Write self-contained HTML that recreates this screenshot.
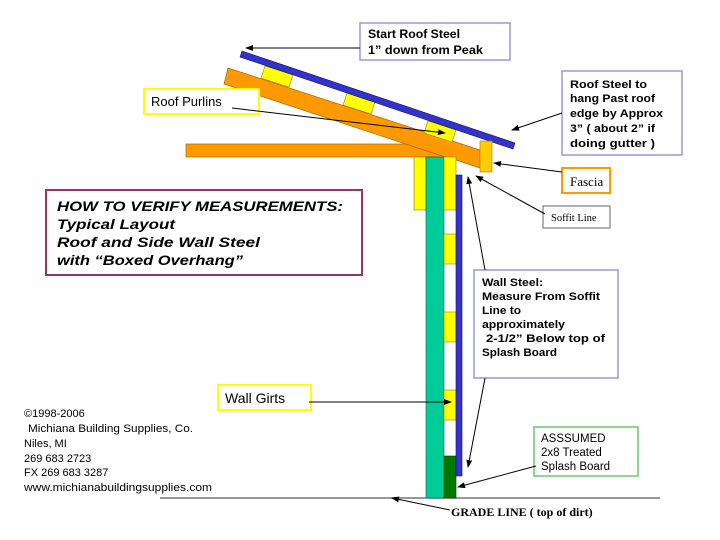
<!DOCTYPE html>
<html><head><meta charset="utf-8"><style>
html,body{margin:0;padding:0;background:#fff;width:720px;height:540px;overflow:hidden}
svg{display:block}
</style></head><body>
<svg width="720" height="540" viewBox="0 0 720 540" xmlns="http://www.w3.org/2000/svg">
<defs><marker id="a" markerWidth="8" markerHeight="6" refX="7" refY="3" orient="auto" markerUnits="userSpaceOnUse"><path d="M0,0 L8,3 L0,6 Z" fill="#000"/></marker></defs>
<line x1="160" y1="498" x2="660" y2="498" stroke="#777" stroke-width="1.5"/>
<rect x="186" y="144" width="270" height="13" fill="#f90" stroke="#a60" stroke-width="0.7"/>
<polygon points="228,68 480,150 480,168 456,160 445,157 224,84" fill="#f90" stroke="#a60" stroke-width="0.7"/>
<polygon points="265,66 293,75 289,87 261,78" fill="#ff0" stroke="#880" stroke-width="0.6"/>
<polygon points="347,93 375,102 371,114 343,105" fill="#ff0" stroke="#880" stroke-width="0.6"/>
<polygon points="428,121 456,130 452,142 424,133" fill="#ff0" stroke="#880" stroke-width="0.6"/>
<polygon points="242,51 515,143 513,149 240,57" fill="#33c" stroke="#116" stroke-width="0.6"/>
<rect x="480" y="141" width="12" height="31" fill="#fc0" stroke="#a70" stroke-width="0.6"/>
<rect x="414" y="157" width="12" height="53" fill="#ff0" stroke="#880" stroke-width="0.6"/>
<rect x="426" y="157" width="18" height="341" fill="#0c9" stroke="#064" stroke-width="0.6"/>
<rect x="444" y="157" width="12" height="53" fill="#ff0" stroke="#880" stroke-width="0.6"/>
<rect x="444" y="234" width="12" height="30" fill="#ff0" stroke="#880" stroke-width="0.6"/>
<rect x="444" y="312" width="12" height="30" fill="#ff0" stroke="#880" stroke-width="0.6"/>
<rect x="444" y="390" width="12" height="30" fill="#ff0" stroke="#880" stroke-width="0.6"/>
<rect x="444" y="456" width="12" height="42" fill="#070" stroke="#040" stroke-width="0.6"/>
<rect x="456" y="175" width="6" height="301" fill="#33c" stroke="#116" stroke-width="0.6"/>
<g font-family="Liberation Sans, sans-serif">
<rect x="360" y="23" width="150" height="37" fill="#fff" stroke="#99d" stroke-width="1.5"/>
<text x="368" y="38" font-size="11.5" font-weight="bold" textLength="92" lengthAdjust="spacingAndGlyphs">Start Roof Steel</text>
<text x="368" y="54" font-size="11.5" font-weight="bold" textLength="115" lengthAdjust="spacingAndGlyphs">1” down  from Peak</text>
<line x1="360" y1="48" x2="246" y2="48" stroke="#000" marker-end="url(#a)"/>
<rect x="562" y="71" width="120" height="84" fill="#fff" stroke="#99d" stroke-width="1.5"/>
<g font-size="11" font-weight="bold"><text x="570" y="88" textLength="77" lengthAdjust="spacingAndGlyphs">Roof Steel to</text><text x="570" y="102" textLength="85" lengthAdjust="spacingAndGlyphs">hang Past roof</text><text x="570" y="117" textLength="93" lengthAdjust="spacingAndGlyphs">edge by Approx</text><text x="570" y="132" textLength="85" lengthAdjust="spacingAndGlyphs">3” ( about 2” if</text><text x="570" y="147" textLength="85" lengthAdjust="spacingAndGlyphs">doing gutter  )</text></g>
<line x1="562" y1="113" x2="512" y2="130" stroke="#000" marker-end="url(#a)"/>
<rect x="144" y="89" width="115" height="25" fill="#fff" stroke="#ff0" stroke-width="2"/>
<text x="151" y="106" font-size="13">Roof Purlins</text>
<line x1="232" y1="108" x2="445" y2="133" stroke="#000" marker-end="url(#a)"/>
<rect x="562" y="168" width="48" height="25" fill="#fff" stroke="#f90" stroke-width="2"/>
<text x="570" y="186" font-size="13" font-family="Liberation Serif, serif">Fascia</text>
<line x1="562" y1="172" x2="494" y2="163" stroke="#000" marker-end="url(#a)"/>
<rect x="543" y="206" width="67" height="22" fill="#fff" stroke="#666" stroke-width="1"/>
<text x="551" y="221" font-size="10.5" font-family="Liberation Serif, serif">Soffit Line</text>
<line x1="545" y1="214" x2="476" y2="176" stroke="#000" marker-end="url(#a)"/>
<rect x="46" y="190" width="316" height="85" fill="#fff" stroke="#936" stroke-width="2"/>
<g font-size="14" font-weight="bold" font-style="italic"><text x="57" y="211" textLength="286" lengthAdjust="spacingAndGlyphs">HOW TO  VERIFY  MEASUREMENTS:</text><text x="57" y="229" textLength="118" lengthAdjust="spacingAndGlyphs">Typical  Layout</text><text x="57" y="247" textLength="203" lengthAdjust="spacingAndGlyphs">Roof and Side Wall Steel</text><text x="57" y="265" textLength="186" lengthAdjust="spacingAndGlyphs">with “Boxed Overhang”</text></g>
<rect x="474" y="270" width="144" height="108" fill="#fff" stroke="#99d" stroke-width="1.5"/>
<g font-size="11" font-weight="bold"><text x="482" y="286" textLength="61" lengthAdjust="spacingAndGlyphs">Wall Steel:</text><text x="482" y="300" textLength="118" lengthAdjust="spacingAndGlyphs">Measure From Soffit</text><text x="482" y="314" textLength="39" lengthAdjust="spacingAndGlyphs">Line to</text><text x="482" y="328" textLength="83" lengthAdjust="spacingAndGlyphs">approximately</text><text x="486" y="342" textLength="119" lengthAdjust="spacingAndGlyphs">2-1/2” Below  top of</text><text x="482" y="356" textLength="75" lengthAdjust="spacingAndGlyphs">Splash Board</text></g>
<line x1="485" y1="270" x2="468" y2="177" stroke="#000" marker-end="url(#a)"/>
<line x1="485" y1="378" x2="468" y2="467" stroke="#000" marker-end="url(#a)"/>
<rect x="218" y="385" width="93" height="25" fill="#fff" stroke="#ff0" stroke-width="2"/>
<text x="225" y="403" font-size="14">Wall Girts</text>
<line x1="309" y1="402" x2="451" y2="402" stroke="#000" marker-end="url(#a)"/>
<rect x="534" y="427" width="104" height="49" fill="#fff" stroke="#6c6" stroke-width="1.5"/>
<g font-size="11.5"><text x="541" y="442">ASSSUMED</text><text x="541" y="456">2x8 Treated</text><text x="541" y="470">Splash Board</text></g>
<line x1="536" y1="466" x2="458" y2="487" stroke="#000" marker-end="url(#a)"/>
<line x1="450" y1="510" x2="392" y2="498" stroke="#000" marker-end="url(#a)"/>
<text x="451" y="516" font-size="12" font-weight="bold" font-family="Liberation Serif, serif">GRADE LINE ( top of dirt)</text>
<g font-size="11"><text x="24" y="417">©1998-2006</text><text x="28" y="432" textLength="165" lengthAdjust="spacingAndGlyphs">Michiana Building Supplies, Co.</text><text x="24" y="447">Niles, MI</text><text x="24" y="462">269 683 2723</text><text x="24" y="476">FX 269 683 3287</text><text x="24" y="491" textLength="188" lengthAdjust="spacingAndGlyphs">www.michianabuildingsupplies.com</text></g>
</g>
</svg>
</body></html>
